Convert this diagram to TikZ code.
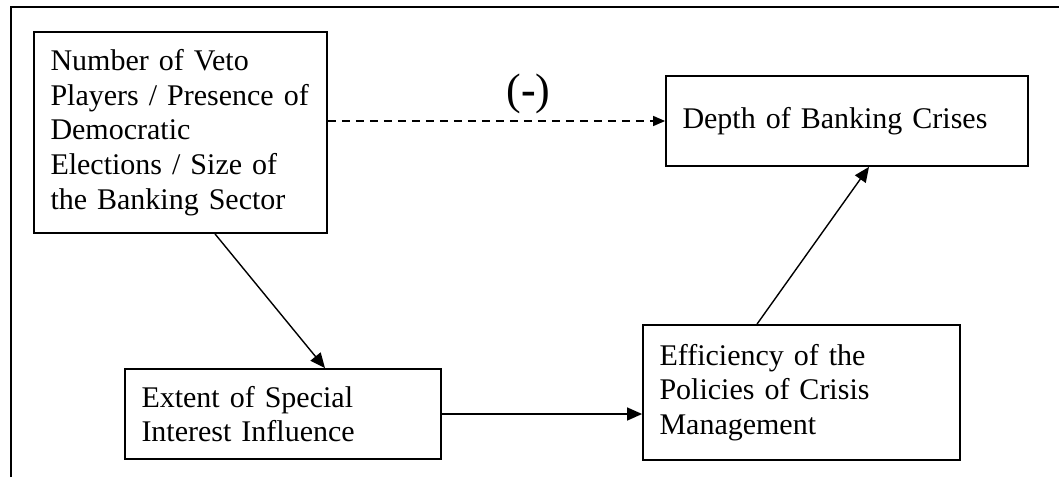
\documentclass[tikz,border=0pt]{standalone}
\usepackage{fontspec}
\setmainfont{Liberation Serif}
\usetikzlibrary{arrows.meta}

\begin{document}
\begin{tikzpicture}[x=0.5pt,y=-0.5pt,
    box/.style={draw,line width=0.9pt,rectangle,align=left,inner xsep=8.25pt,inner ysep=2pt,
      font=\fontsize{15pt}{17.4pt}\selectfont},
    link/.style={line width=0.7pt,-{Triangle[length=7.5pt,width=6.5pt]}}]
    \useasboundingbox (0,0) rectangle (1059,477);
    \draw[line width=1pt] (11,477) -- (11,7) -- (1059,7);
    \node[box,text width=130pt,minimum height=100.5pt] (a) at (180.5,132.5) {Number of Veto\\\mbox{Players / Presence of}\\Democratic\\Elections / Size of\\the Banking Sector};
    \node[box,text width=164.5pt,minimum height=45pt] (b) at (847,121) {Depth of Banking Crises};
    \node[box,text width=141.5pt,minimum height=45pt] (d) at (283,414) {Extent of Special\\Interest Influence};
    \node[box,text width=142pt,minimum height=67.5pt] (c) at (801.5,392.5) {Efficiency of the\\Policies of Crisis\\Management};
    \node[font=\fontsize{22pt}{24pt}\selectfont,inner sep=0pt] (s) at (528.5,94) {(\textbf{-})};
    \draw[link,dash pattern=on 4pt off 3pt,-{Triangle[length=6pt,width=5pt]}] (a.east |- b.west) -- (b.west);
    \draw[link] ([xshift=17.25pt]a.south) -- ([xshift=21pt]d.north);
    \draw[link] (d.east) -- (d.east -| c.west);
    \draw[link] ([xshift=-22.25pt]c.north) -- ([xshift=11pt]b.south);
\end{tikzpicture}
\end{document}
